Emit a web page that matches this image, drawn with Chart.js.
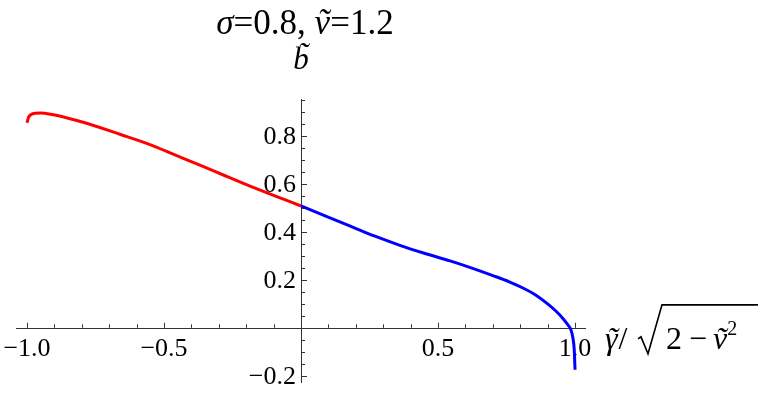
<!DOCTYPE html>
<html>
<head>
<meta charset="utf-8">
<script src="https://cdn.jsdelivr.net/npm/chart.js@4.4.1/dist/chart.umd.min.js"></script>
<style>
  html, body { margin: 0; padding: 0; background: #fff; }
  #wrap { width: 763px; height: 395px; }
</style>
</head>
<body>
<div id="wrap"><canvas id="plot" width="763" height="395"></canvas></div>
<script>
// values
const redX = [-1.0, -0.994, -0.985, -0.97, -0.95, -0.904, -0.85, -0.782, -0.661, -0.551, -0.46, -0.369, -0.277, -0.186, -0.093, 0];
const redY = [0.855, 0.878, 0.889, 0.895, 0.896, 0.888, 0.874, 0.853, 0.807, 0.764, 0.721, 0.678, 0.634, 0.591, 0.549, 0.508];

const blueX = [0, 0.09, 0.18, 0.27, 0.361, 0.45, 0.544, 0.629, 0.7, 0.76, 0.81, 0.86, 0.9, 0.93, 0.955, 0.972, 0.984, 0.992, 0.997, 1.0];
const blueY = [0.508, 0.466, 0.424, 0.382, 0.344, 0.311, 0.279, 0.247, 0.218, 0.192, 0.166, 0.134, 0.1, 0.07, 0.04, 0.015, -0.005, -0.04, -0.09, -0.175];

const xTicks = [-1.0, -0.5, 0.5, 1.0];
const xTickLabels = ['\u22121.0', '\u22120.5', '0.5', '1.0'];
const yTicks = [-0.2, 0.2, 0.4, 0.6, 0.8];
const yTickLabels = ['\u22120.2', '0.2', '0.4', '0.6', '0.8'];

const xRange = [-1.04, 1.04];
const yRange = [-0.23, 0.954];

const SERIF = '"Liberation Serif", "DejaVu Serif", serif';
const AXIS_COLOR = '#333';

function toPoints(xs, ys) {
    return xs.map((x, i) => ({ x: x, y: ys[i] }));
}

// draw a row of text pieces, optionally with a tilde over a piece
function drawRun(ctx, parts, x, y, align) {
    const widths = parts.map(p => { ctx.font = p.font; return ctx.measureText(p.t).width; });
    const total = widths.reduce((a, b) => a + b, 0) + parts.reduce((a, p) => a + (p.gap || 0), 0);
    let cx = align === 'center' ? x - total / 2 : x;
    ctx.textAlign = 'left';
    parts.forEach((p, i) => {
        ctx.font = p.font;
        ctx.fillText(p.t, cx, y + (p.dy || 0));
        if (p.tilde) {
            ctx.textAlign = 'center';
            ctx.fillText('\u02DC', cx + widths[i] / 2 + (p.tx || 0), y + (p.ty || 0));
            ctx.textAlign = 'left';
        }
        cx += widths[i] + (p.gap || 0);
    });
    return cx;
}

// Mathematica-style axes crossing at the origin
const originAxes = {
    id: 'originAxes',
    beforeDatasetsDraw(chart) {
        const ctx = chart.ctx;
        const xs = chart.scales.x;
        const ys = chart.scales.y;
        const x0 = xs.getPixelForValue(0);
        const y0 = ys.getPixelForValue(0);

        ctx.save();
        ctx.strokeStyle = AXIS_COLOR;
        ctx.lineWidth = 1;
        ctx.beginPath();
        ctx.moveTo(xs.getPixelForValue(xRange[0]), Math.round(y0) + 0.5);
        ctx.lineTo(xs.getPixelForValue(xRange[1]), Math.round(y0) + 0.5);
        ctx.moveTo(Math.round(x0) + 0.5, ys.getPixelForValue(yRange[1]));
        ctx.lineTo(Math.round(x0) + 0.5, ys.getPixelForValue(yRange[0]));

        // x ticks every 0.1, long ones every 0.5
        for (let i = -10; i <= 10; i++) {
            if (i === 0) continue;
            const px = Math.round(xs.getPixelForValue(i / 10)) + 0.5;
            const len = (i % 5 === 0) ? 5 : 3.5;
            ctx.moveTo(px, y0);
            ctx.lineTo(px, y0 - len);
        }
        // y ticks every 0.05, long ones every 0.2
        for (let j = -4; j <= 19; j++) {
            if (j === 0) continue;
            const py = Math.round(ys.getPixelForValue(j / 20)) + 0.5;
            const len = (j % 4 === 0) ? 6 : 4;
            ctx.moveTo(x0, py);
            ctx.lineTo(x0 + len, py);
        }
        ctx.stroke();

        ctx.fillStyle = '#000';
        ctx.font = '26px ' + SERIF;
        ctx.textAlign = 'center';
        ctx.textBaseline = 'top';
        xTicks.forEach((v, i) => {
            ctx.fillText(xTickLabels[i], xs.getPixelForValue(v), y0 + 8);
        });
        ctx.textAlign = 'right';
        ctx.textBaseline = 'middle';
        yTicks.forEach((v, i) => {
            ctx.fillText(yTickLabels[i], x0 - 5, ys.getPixelForValue(v) + 1);
        });
        ctx.restore();
    },
    afterDraw(chart) {
        const ctx = chart.ctx;
        const x0 = chart.scales.x.getPixelForValue(0);
        const y0 = chart.scales.y.getPixelForValue(0);
        const up = '35px ' + SERIF;
        const it = 'italic 35px ' + SERIF;

        ctx.save();
        ctx.fillStyle = '#000';
        ctx.textBaseline = 'alphabetic';

        // title
        drawRun(ctx, [
            { t: '\u03C3', font: it },
            { t: '=0.8, ', font: up },
            { t: '\u03BD', font: it, tilde: true, tx: 1 },
            { t: '=1.2', font: up }
        ], 305, 34, 'center');

        // y label
        drawRun(ctx, [
            { t: 'b', font: 'italic 31px ' + SERIF, tilde: true, tx: 2, ty: -5 }
        ], x0, 69, 'center');

        // x label: gamma~ / sqrt(2 - nu~^2)
        const base = y0 + 21;
        drawRun(ctx, [
            { t: '\u03B3', font: 'italic 32px ' + SERIF, tilde: true, tx: 1, gap: 1 },
            { t: '/', font: '32px ' + SERIF }
        ], 605, base, 'left');
        drawRun(ctx, [
            { t: '2', font: '32px ' + SERIF, gap: 7 },
            { t: '\u2212', font: '32px ' + SERIF, gap: 6 },
            { t: '\u03BD', font: 'italic 32px ' + SERIF, tilde: true, tx: 1 },
            { t: '2', font: '20px ' + SERIF, dy: -14 }
        ], 666, base, 'left');

        ctx.strokeStyle = '#000';
        ctx.lineWidth = 1.6;
        ctx.beginPath();
        ctx.moveTo(638, y0 + 11);
        ctx.lineTo(641, y0 + 9);
        ctx.lineTo(648, y0 + 26);
        ctx.lineTo(662, y0 - 23);
        ctx.lineTo(758, y0 - 23);
        ctx.stroke();
        ctx.restore();
    }
};

const chart = new Chart(document.getElementById('plot'), {
    type: 'line',
    data: {
        datasets: [
            {
                data: toPoints(redX, redY),
                borderColor: '#ff0000',
                borderWidth: 3,
                pointRadius: 0,
                cubicInterpolationMode: 'monotone',
                fill: false
            },
            {
                data: toPoints(blueX, blueY),
                borderColor: '#0000ff',
                borderWidth: 3,
                pointRadius: 0,
                cubicInterpolationMode: 'monotone',
                fill: false
            }
        ]
    },
    options: {
        responsive: false,
        animation: false,
        clip: false,
        layout: { padding: { left: 16, right: 177, top: 99, bottom: 12 } },
        plugins: {
            legend: { display: false },
            tooltip: { enabled: false }
        },
        scales: {
            x: { type: 'linear', min: xRange[0], max: xRange[1], display: false },
            y: { type: 'linear', min: yRange[0], max: yRange[1], display: false }
        }
    },
    plugins: [originAxes]
});
</script>
</body>
</html>
